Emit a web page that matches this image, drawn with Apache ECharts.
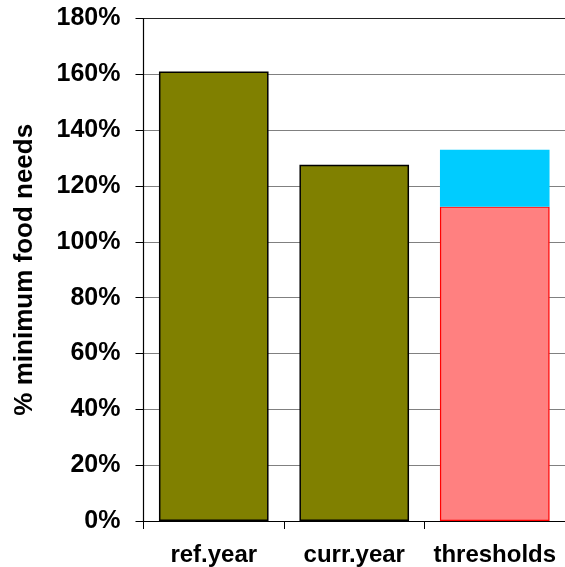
<!DOCTYPE html>
<html>
<head>
<meta charset="utf-8">
<script src="https://cdn.jsdelivr.net/npm/echarts@6/dist/echarts.min.js"></script>
<style>
  html, body { margin: 0; padding: 0; background: #fff; }
  #chart { width: 565px; height: 567px; }
</style>
</head>
<body>
<div id="chart"></div>
<script>
// Food availability as a share of minimum needs
const categories = ['ref.year', 'curr.year', 'thresholds'];
const yearValues = [161, 127.6];          // ref.year, curr.year (%)
const thresholdLow = 112.6;               // lower threshold (%)
const thresholdHigh = 133;                // upper threshold (%)
const yTicks = [0, 20, 40, 60, 80, 100, 120, 140, 160, 180];

const FONT = '"Liberation Sans", Arial, sans-serif';

const chart = echarts.init(document.getElementById('chart'), null, { renderer: 'canvas' });

// split lines: grey, with the top one darker
const splitColors = yTicks.map((t, i) => i === yTicks.length - 1 ? '#222' : '#808080');

chart.setOption({
  animation: false,
  backgroundColor: '#ffffff',
  grid: { left: 143.5, right: -3.5, top: 18.5, bottom: 44.5, containLabel: false },
  xAxis: {
    type: 'category',
    data: categories,
    axisLine: { lineStyle: { color: '#000', width: 1.2 } },
    axisTick: { show: true, length: 8, lineStyle: { color: '#000' }, alignWithLabel: false },
    axisLabel: {
      color: '#000', fontFamily: FONT, fontWeight: 'bold', fontSize: 24, margin: 22,
      interval: 0, hideOverlap: false
    }
  },
  yAxis: {
    type: 'value',
    min: yTicks[0],
    max: yTicks[yTicks.length - 1],
    interval: 20,
    name: '% minimum food needs',
    nameLocation: 'middle',
    nameGap: 106,
    nameRotate: 90,
    nameTextStyle: { color: '#000', fontFamily: FONT, fontWeight: 'bold', fontSize: 26 },
    axisLine: { show: true, lineStyle: { color: '#000', width: 1.2 } },
    axisTick: { show: true, length: 8, inside: false, lineStyle: { color: '#000' } },
    axisLabel: {
      color: '#000', fontFamily: FONT, fontWeight: 'bold', fontSize: 25, margin: 23,
      formatter: v => v + '%'
    },
    splitLine: { show: true, lineStyle: { color: splitColors, width: 1.2 } }
  },
  series: [
    {
      name: 'years',
      type: 'bar',
      stack: 'total',
      barWidth: '78%',
      data: [yearValues[0], yearValues[1], '-'],
      itemStyle: { color: '#808000', borderColor: '#000', borderWidth: 1.5 }
    },
    {
      name: 'lower threshold',
      type: 'bar',
      stack: 'total',
      barWidth: '78%',
      data: ['-', '-', thresholdLow],
      itemStyle: { color: '#FF8080', borderColor: '#FF0000', borderWidth: 1.2 }
    },
    {
      name: 'upper threshold',
      type: 'bar',
      stack: 'total',
      barWidth: '78%',
      data: ['-', '-', thresholdHigh - thresholdLow],
      itemStyle: { color: '#00CCFF', borderWidth: 0 }
    }
  ]
});
</script>
</body>
</html>
